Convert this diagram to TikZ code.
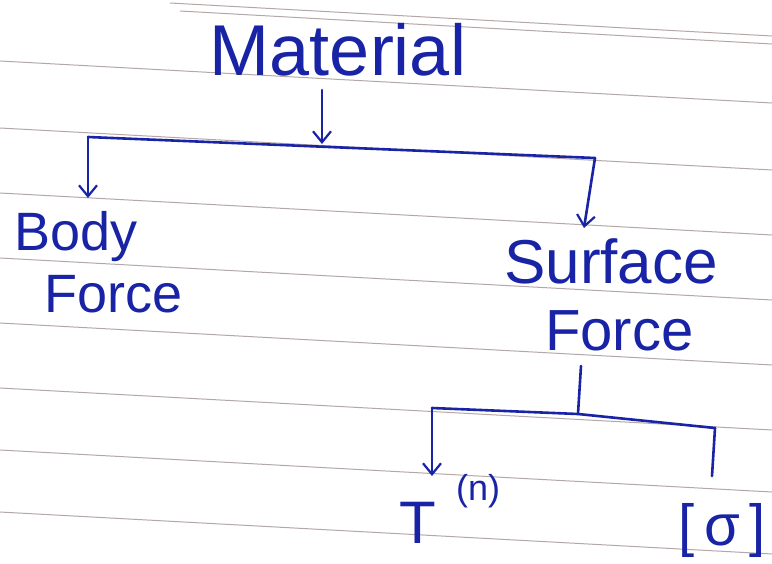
\documentclass[tikz,border=0pt]{standalone}
\usepackage{fontspec}
\setmainfont{Liberation Sans}
\usetikzlibrary{arrows.meta}
\definecolor{ink}{RGB}{25,35,165}
\definecolor{rule}{RGB}{120,95,95}
\tikzset{
  hand/.style={text=ink, inner sep=0pt},
  pen/.style={draw=ink, line width=2.6pt, line cap=round, line join=round},
  penarrow/.style={pen, -{Straight Barb[length=11pt,width=18pt,line width=2.2pt]}},
  ruled/.style={draw=rule!55, line width=1pt}
}
\begin{document}
\begin{tikzpicture}[x=1pt,y=-1pt]
\useasboundingbox[fill=white] (0,0) rectangle (772,563);
% ruled paper
\foreach \yy in {61,128,193,258,323,388,450,512}{
  \draw[ruled] (0,\yy) -- (772,\yy+42);
}
\draw[ruled] (170,3) -- (772,36);
\draw[ruled] (180,11) -- (772,44);
% texts
\node[hand, font=\fontsize{72}{74}\selectfont, anchor=base] (mat) at (338,75) {Material};
\node[hand, font=\fontsize{54}{56}\selectfont, anchor=base west] (body) at (14,250) {Body};
\node[hand, font=\fontsize{54}{56}\selectfont, anchor=base west] (bforce) at (44,312) {Force};
\node[hand, font=\fontsize{62}{64}\selectfont, anchor=base west] (surf) at (504,283) {Surface};
\node[hand, font=\fontsize{58}{60}\selectfont, anchor=base west] (sforce) at (545,350) {Force};
\node[hand, font=\fontsize{60}{62}\selectfont, anchor=base] (T) at (418,543) {T};
\node[hand, font=\fontsize{36}{38}\selectfont, anchor=base west] (Tn) at (456,500) {(n)};
\node[hand, font=\fontsize{58}{60}\selectfont, anchor=base] (sig) at (722,545) {[\,σ\,]};
% connectors: top level
\coordinate (mtop) at (322,90);
\coordinate (mjoin) at (322,144);
\coordinate (lb) at (88,137);
\coordinate (rb) at (595,158);
\coordinate (lbend) at (88,198);
\coordinate (rbend) at (584,228);
\draw[penarrow] (mtop) -- (mjoin);
\draw[pen] (lb) -- (rb);
\draw[penarrow] (lb) -- (lbend);
\draw[penarrow] (rb) -- (rbend);
% second level
\coordinate (stop) at (581,366);
\coordinate (sjoin) at (578,414);
\coordinate (lb2) at (432,408);
\coordinate (rb2) at (715,428);
\coordinate (lb2end) at (432,476);
\coordinate (rb2end) at (712,476);
\draw[pen] (stop) -- (sjoin);
\draw[pen] (lb2) -- (sjoin) -- (rb2);
\draw[penarrow] (lb2) -- (lb2end);
\draw[pen] (rb2) -- (rb2end);
\end{tikzpicture}
\end{document}
